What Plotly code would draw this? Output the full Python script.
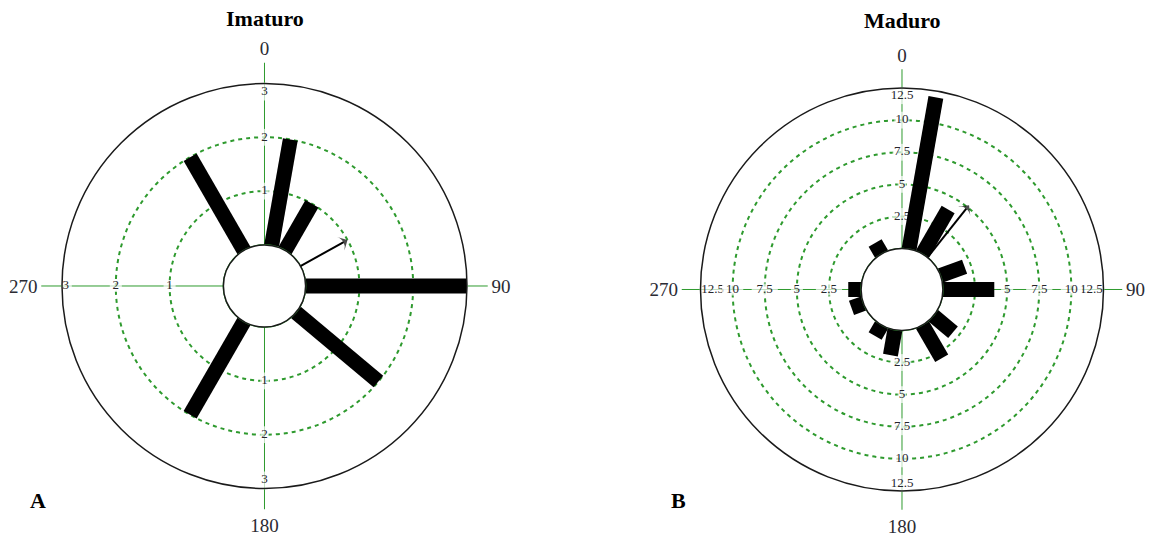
import plotly.graph_objects as go

# ---- data -------------------------------------------------------------
imaturo_dirs = [10, 30, 90, 130, 210, 330]
imaturo_counts = [2, 1, 3, 2, 2, 2]
imaturo_mean_dir = 61
imaturo_mean_len = 1.0

maduro_dirs = [10, 30, 70, 90, 130, 150, 190, 210, 250, 270, 330]
maduro_counts = [12, 4, 2, 4, 2, 3, 2, 1, 1, 1, 1]
maduro_mean_dir = 38.5
maduro_mean_len = 5.2

imaturo_ticks = [1, 2, 3]
imaturo_ticktext = ["1", "2", "3"]
maduro_ticks = [2.5, 5, 7.5, 10, 12.5]
maduro_ticktext = ["2.5", "5", "7.5", "10", "12.5"]

compass_vals = [0, 90, 180, 270]
compass_text = ["0", "90", "180", "270"]

# ---- style ------------------------------------------------------------
GREEN = "#2e9a2e"
SERIF = "Liberation Serif, Times New Roman, serif"
LABEL_SIZE = 13
CHAR_W = 6.6


def radial_labels(ticks, texts, outer_v, outer_h, subplot):
    """Tick labels repeated along the four compass axes, each on a white box."""
    traces = []
    groups = [(ticks[-1:], texts[-1:], True), (ticks[:-1], texts[:-1], False)]
    for tv, tt, is_outer in groups:
        r, th, sym, size, lw, txt = [], [], [], [], [], []
        for ang in compass_vals:
            vertical = ang in (0, 180)
            for v, t in zip(tv, tt):
                if is_outer:
                    v = outer_v if vertical else outer_h
                w = CHAR_W * len(t.replace(".", "")) + 3.5 * t.count(".") + 2
                r.append(v)
                th.append(ang)
                txt.append(t)
                if vertical:
                    sym.append("line-ns")
                    size.append(12)
                    lw.append(w)
                else:
                    sym.append("line-ew")
                    size.append(w)
                    lw.append(12)
        traces.append(go.Scatterpolar(
            r=r, theta=th, text=txt, mode="markers+text",
            textposition="middle center",
            textfont=dict(family=SERIF, size=LABEL_SIZE, color="#26262c"),
            marker=dict(symbol=sym, size=size, color="white",
                        line=dict(width=lw, color="white")),
            hoverinfo="skip", showlegend=False, subplot=subplot,
        ))
    return traces


def bars(dirs, counts, subplot):
    out = []
    for d, c in zip(dirs, counts):
        out.append(go.Scatterpolar(
            r=[0, c], theta=[d, d], mode="lines",
            line=dict(color="black", width=15),
            hoverinfo="skip", showlegend=False, subplot=subplot,
        ))
    return out


def hole_ring(subplot):
    th = list(range(0, 361, 2))
    return go.Scatterpolar(
        r=[0] * len(th), theta=th, mode="lines",
        line=dict(color=GREEN, width=1.5),
        hoverinfo="skip", showlegend=False, subplot=subplot,
    )


def mean_arrow(direction, length, subplot):
    return go.Scatterpolar(
        r=[0, length], theta=[direction, direction], mode="lines+markers",
        line=dict(color="black", width=2),
        marker=dict(symbol=["circle", "arrow-wide"], size=[0, 11],
                    angleref="previous", color="black",
                    line=dict(width=0)),
        hoverinfo="skip", showlegend=False, subplot=subplot,
    )


fig = go.Figure()

# Imaturo
for tr in radial_labels(imaturo_ticks, imaturo_ticktext, 2.84, 2.93, "polar"):
    fig.add_trace(tr)
for tr in bars(imaturo_dirs, imaturo_counts, "polar"):
    fig.add_trace(tr)
fig.add_trace(hole_ring("polar"))
fig.add_trace(mean_arrow(imaturo_mean_dir, imaturo_mean_len, "polar"))

# Maduro
for tr in radial_labels(maduro_ticks, maduro_ticktext, 11.9, 11.55, "polar2"):
    fig.add_trace(tr)
for tr in bars(maduro_dirs, maduro_counts, "polar2"):
    fig.add_trace(tr)
fig.add_trace(hole_ring("polar2"))
fig.add_trace(mean_arrow(maduro_mean_dir, maduro_mean_len, "polar2"))


def polar_layout(domain_x, domain_y, rmax, grid_vals, ticklen):
    return dict(
        domain=dict(x=domain_x, y=domain_y),
        hole=0.203,
        bgcolor="white",
        radialaxis=dict(
            range=[0, rmax], tickvals=grid_vals, showticklabels=False,
            ticks="", showline=False, showgrid=True,
            gridcolor=GREEN, griddash="4px,4px", gridwidth=1.5,
        ),
        angularaxis=dict(
            rotation=90, direction="clockwise",
            tickvals=compass_vals, ticktext=compass_text,
            ticks="outside", ticklen=ticklen, tickwidth=1.4, tickcolor=GREEN,
            tickfont=dict(family=SERIF, size=19, color="#2b2b33"),
            showline=True, linecolor="#1a1a1a", linewidth=1.5,
            showgrid=True, gridcolor=GREEN, gridwidth=1.3,
        ),
    )


def text_note(text, x_px, y_px):
    return dict(text=text, x=x_px / 1156, y=1 - y_px / 537,
                xref="paper", yref="paper", showarrow=False,
                xanchor="center", yanchor="middle",
                font=dict(family=SERIF, size=22, color="black"))


fig.update_layout(
    width=1156, height=537,
    margin=dict(l=0, r=0, t=0, b=0),
    paper_bgcolor="white",
    showlegend=False,
    polar=polar_layout([0.05363, 0.40398], [0.09032, 0.84451], 3, [1, 2], 20),
    polar2=polar_layout([0.60597, 0.95458], [0.08566, 0.83613], 12.5,
                        [2.5, 5, 7.5, 10], 18),
    annotations=[
        text_note("<b>Imaturo</b>", 264.5, 18.5),
        text_note("<b>Maduro</b>", 902, 20.5),
        text_note("<b>A</b>", 38, 500),
        text_note("<b>B</b>", 678, 500),
    ],
)

fig.write_html("out.html")
